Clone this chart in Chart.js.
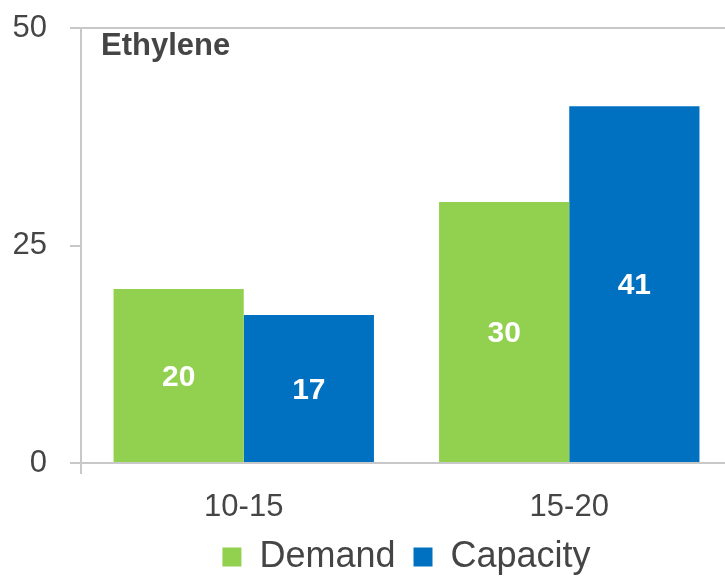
<!DOCTYPE html>
<html>
<head>
<meta charset="utf-8">
<script src="https://cdn.jsdelivr.net/npm/chart.js@4/dist/chart.umd.min.js"></script>
<style>
  html, body { margin: 0; padding: 0; background: #fff; overflow: hidden; }
  #wrap { width: 732px; height: 579px; }
</style>
</head>
<body>
<div id="wrap"><canvas id="ethyleneChart"></canvas></div>
<script>
// periods and series
const periods = ['10-15', '15-20'];
const demand = [20, 30];
const capacity = [17, 41];
const yTicks = [0, 25, 50];

const FONT = "'Liberation Sans', Arial, sans-serif";
const GREY_TEXT = '#454545';
const LINE = '#c8c8c8';

// panel heading in the top left corner of the plot
const headingPlugin = {
    id: 'heading',
    afterDraw(chart) {
        const { ctx, chartArea } = chart;
        ctx.save();
        ctx.font = 'bold 31px ' + FONT;
        ctx.fillStyle = GREY_TEXT;
        ctx.textBaseline = 'top';
        ctx.fillText('Ethylene', chartArea.left + 20, chartArea.top + 3);
        ctx.restore();
    }
};

// white value labels in the middle of each bar
const barLabels = {
    id: 'barLabels',
    afterDatasetsDraw(chart) {
        const { ctx } = chart;
        ctx.save();
        ctx.font = 'bold 30px ' + FONT;
        ctx.fillStyle = '#ffffff';
        ctx.textAlign = 'center';
        ctx.textBaseline = 'middle';
        chart.data.datasets.forEach((ds, i) => {
            chart.getDatasetMeta(i).data.forEach((bar, j) => {
                const { x, y, base } = bar.getProps(['x', 'y', 'base'], true);
                ctx.fillText(ds.data[j], x, (y + base) / 2 + 2);
            });
        });
        ctx.restore();
    }
};

const ctx = document.getElementById('ethyleneChart').getContext('2d');
const chart = new Chart(ctx, {
    type: 'bar',
    data: {
        labels: periods,
        datasets: [{
            label: 'Demand',
            data: demand,
            backgroundColor: '#92d050'
        }, {
            label: 'Capacity',
            data: capacity,
            backgroundColor: '#0070c0'
        }]
    },
    options: {
        responsive: true,
        maintainAspectRatio: false,
        animation: false,
        layout: { padding: 0 },
        datasets: {
            bar: { categoryPercentage: 0.8, barPercentage: 1.0 }
        },
        plugins: {
            tooltip: { enabled: false },
            legend: {
                position: 'bottom',
                fullSize: false,
                maxHeight: 58,
                labels: {
                    boxWidth: 19,
                    boxHeight: 19,
                    padding: 18,
                    color: GREY_TEXT,
                    font: { family: FONT, size: 36 }
                }
            }
        },
        scales: {
            x: {
                afterFit: scale => { scale.height = 58; },
                grid: {
                    drawOnChartArea: false,
                    tickLength: 11,
                    lineWidth: 2,
                    tickColor: c => c.index === 0 ? LINE : 'rgba(0,0,0,0)'
                },
                border: { color: LINE, width: 2 },
                ticks: {
                    color: GREY_TEXT,
                    padding: 20.5,
                    font: { family: FONT, size: 31, lineHeight: 0.85 }
                }
            },
            y: {
                min: 0,
                max: 50,
                afterBuildTicks: scale => { scale.ticks = yTicks.map(v => ({ value: v })); },
                afterFit: scale => {
                    scale.width = 81;
                    scale.paddingTop = 28;
                },
                grid: {
                    lineWidth: 2,
                    tickLength: 11,
                    tickColor: LINE,
                    color: c => c.tick && c.tick.value === 50 ? LINE : 'rgba(0,0,0,0)'
                },
                border: { color: LINE, width: 2 },
                ticks: {
                    color: GREY_TEXT,
                    padding: 23,
                    font: { family: FONT, size: 31 }
                }
            }
        }
    },
    plugins: [headingPlugin, barLabels]
});
</script>
</body>
</html>
